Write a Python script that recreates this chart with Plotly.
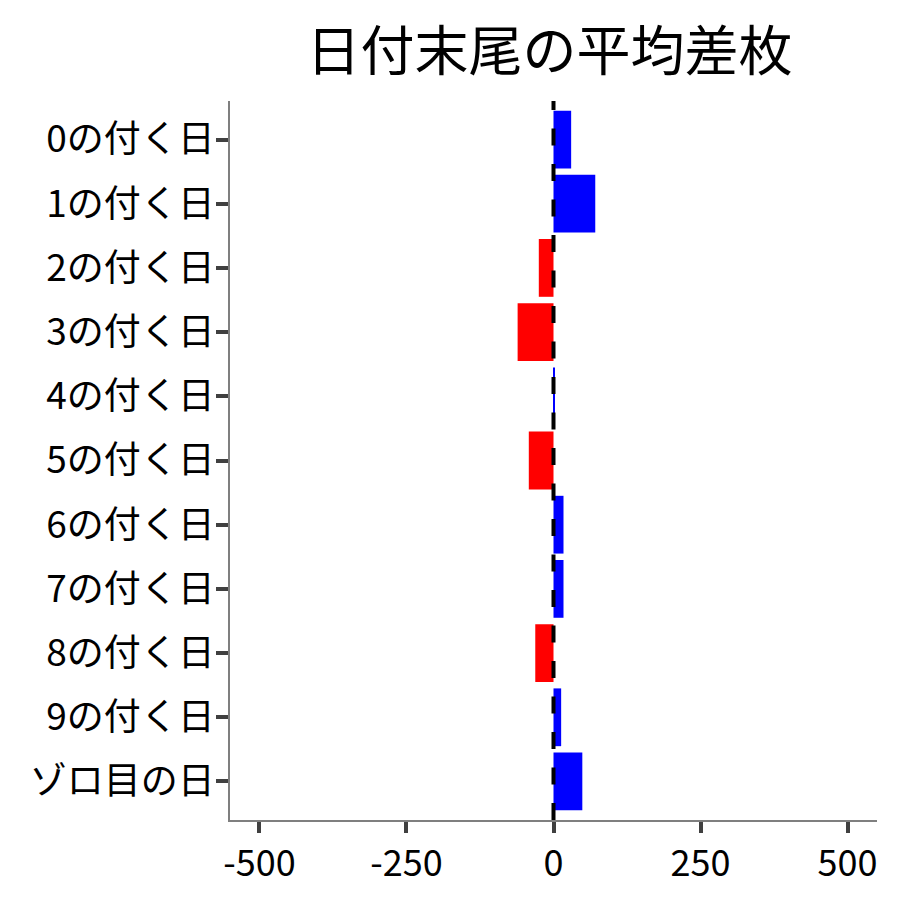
import plotly.graph_objects as go

categories = ["0の付く日", "1の付く日", "2の付く日", "3の付く日", "4の付く日",
              "5の付く日", "6の付く日", "7の付く日", "8の付く日", "9の付く日", "ゾロ目の日"]
avg_diff = [30, 71, -25, -61, 2, -42, 17, 17, -31, 13, 49]

x_ticks = [-500, -250, 0, 250, 500]
x_ticktext = ["-500", "-250", "0", "250", "500"]

colors = ["#0000FF" if v >= 0 else "#FF0000" for v in avg_diff]

fig = go.Figure()
fig.add_trace(go.Bar(
    x=avg_diff, y=categories, orientation="h",
    marker=dict(color=colors, line=dict(width=0)),
    width=0.9,
))
# dashed reference line at zero, drawn from the bottom up
fig.add_shape(type="line", xref="x", yref="paper", x0=0, x1=0, y0=0, y1=1,
              line=dict(color="black", width=4, dash="17px,18.5px"), layer="above")

font = "Noto Sans CJK JP"
fig.update_layout(
    title=dict(text="日付末尾の平均差枚", x=541.5 / 900, xanchor="center",
               y=0.951, yanchor="middle", font=dict(family=font, size=54, color="black")),
    width=900, height=900,
    plot_bgcolor="white", paper_bgcolor="white",
    margin=dict(l=222, r=31, t=93, b=88),
    showlegend=False,
    xaxis=dict(range=[-550, 550], tickvals=x_ticks, ticktext=x_ticktext,
               showgrid=False, zeroline=False, showline=True, linecolor="#7f7f7f", linewidth=1.5,
               ticks="outside", ticklen=11, tickwidth=3.5, tickcolor="#404040",
               tickfont=dict(family=font, size=36, color="black")),
    yaxis=dict(categoryorder="array", categoryarray=categories,
               autorange=False, range=[10.6, -0.6],
               showgrid=False, zeroline=False, showline=True, linecolor="#7f7f7f", linewidth=1.5,
               ticks="outside", ticklen=12, tickwidth=3.5, tickcolor="#404040",
               ticklabelstandoff=-6,
               tickfont=dict(family=font, size=37, color="black")),
)
fig.write_html("out.html")
